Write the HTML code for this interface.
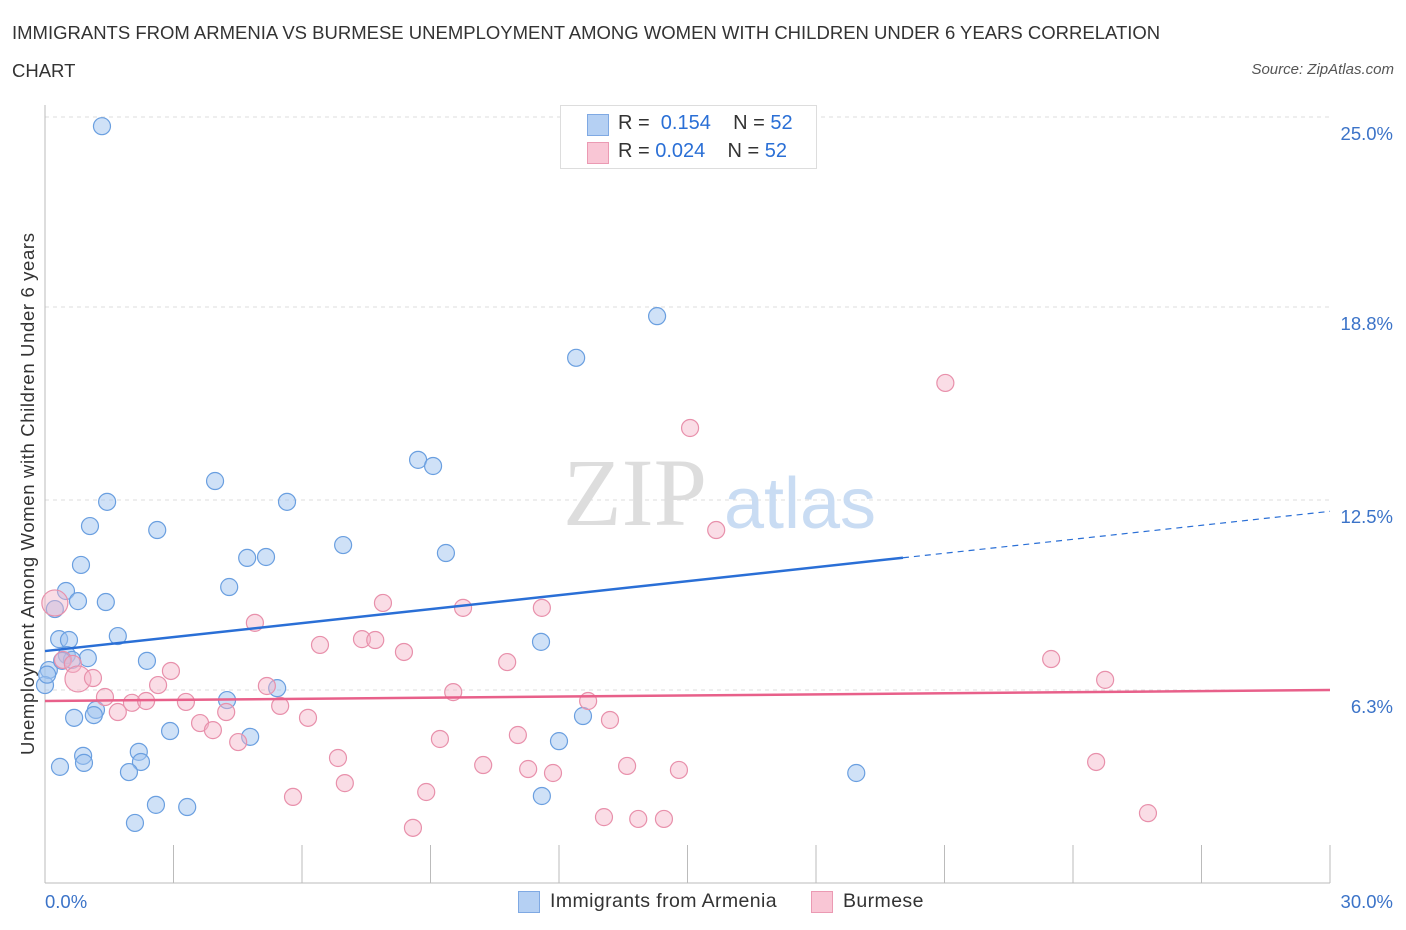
<!DOCTYPE html>
<html><head><meta charset="utf-8"><style>
body{margin:0;background:#fff;font-family:"Liberation Sans",sans-serif;}
#wrap{position:relative;width:1406px;height:930px;overflow:hidden}
.t{position:absolute;color:#333;font-size:18.5px;white-space:nowrap}
</style></head><body><div id="wrap">
<div class="t" style="left:12px;top:22px">IMMIGRANTS FROM ARMENIA VS BURMESE UNEMPLOYMENT AMONG WOMEN WITH CHILDREN UNDER 6 YEARS CORRELATION</div>
<div class="t" style="left:12px;top:60px">CHART</div>
<div class="t" style="right:12px;top:61px;font-size:15px;font-style:italic;color:#555">Source: ZipAtlas.com</div>
<svg id="svg" width="1406" height="930" style="position:absolute;left:0;top:0"></svg>
</div>
<script>
const xTicks=[0,30];
const yTicks=[6.3,12.5,18.8,25.0];
const yTickLabels=["6.3%","12.5%","18.8%","25.0%"];
const blueX=[1.33,14.29,12.4,8.71,9.06,3.97,1.45,5.65,1.05,2.62,6.96,9.36,4.72,5.16,0.84,4.30,0.49,0.23,0.77,1.42,1.70,0.33,0.56,11.58,0.51,1.00,2.38,0.63,0.09,0,5.42,4.25,1.19,1.14,0.68,12.56,2.92,4.79,12.0,0.89,2.19,0.91,2.24,0.35,1.96,18.94,2.59,3.32,11.60,2.10,0.40,0.05];
const blueY=[24.7,18.5,17.14,13.81,13.61,13.12,12.44,12.44,11.65,11.52,11.03,10.77,10.61,10.64,10.38,9.66,9.53,8.94,9.20,9.17,8.06,7.96,7.93,7.87,7.44,7.34,7.25,7.28,6.95,6.46,6.36,5.97,5.65,5.48,5.39,5.45,4.96,4.77,4.63,4.15,4.28,3.92,3.95,3.79,3.62,3.59,2.55,2.48,2.84,1.96,7.25,6.8];
const pinkX=[21.02,15.06,15.67,7.89,9.76,11.6,4.90,7.40,7.71,6.42,8.38,10.79,23.49,2.94,24.75,0.23,0.42,0.65,0.77,1.12,2.64,5.18,9.53,1.40,2.03,2.36,3.29,12.68,5.49,1.70,4.23,6.14,3.62,3.92,13.19,9.22,11.04,4.51,6.84,10.23,11.28,11.86,13.59,14.80,24.54,7.0,5.79,8.90,13.05,13.85,14.45,8.59,25.75];
const pinkY=[16.32,14.85,11.52,9.14,8.98,8.98,8.49,7.96,7.93,7.77,7.54,7.21,7.31,6.92,6.63,9.14,7.28,7.15,6.66,6.69,6.46,6.43,6.23,6.07,5.88,5.94,5.91,5.94,5.78,5.58,5.58,5.39,5.22,4.99,5.32,4.70,4.83,4.60,4.08,3.85,3.72,3.59,3.82,3.69,3.95,3.26,2.81,2.97,2.15,2.09,2.09,1.80,2.28];
const pinkR=[0,0,0,0,0,0,0,0,0,0,0,0,0,0,0,1,0,0,1,0,0,0,0,0,0,0,0,0,0,0,0,0,0,0,0,0,0,0,0,0,0,0,0,0,0,0,0,0,0,0,0,0,0];
const blueTrend=[7.57,0.152]; const pinkTrend=[5.94,0.012];
const X=v=>45+v/30*1285, Y=v=>883-v*30.64;
const s=document.getElementById('svg'),NS='http://www.w3.org/2000/svg';
function mk(t,a){const e=document.createElementNS(NS,t);for(const k in a)e.setAttribute(k,a[k]);s.appendChild(e);return e;}
yTicks.forEach((v,i)=>{
 const g=mk('line',{x1:45,x2:1330,y1:Y(v),y2:Y(v),stroke:'#ddd','stroke-dasharray':'4,4'});
 
 
 const t=mk('text',{x:1393,y:Y(v)+23,'text-anchor':'end',fill:'#3b73c8','font-size':18.5});
 t.textContent=yTickLabels[i];
 
 
});
for(let i=0;i<=10;i++){const l=mk('line',{x1:X(i*3),x2:X(i*3),y1:845,y2:883,stroke:'#bbb'});
 
 }
const ax=mk('line',{x1:45,x2:45,y1:105,y2:883,stroke:'#bbb'});


const bx=mk('line',{x1:45,x2:1330,y1:883,y2:883,stroke:'#bbb'});


const w1=mk('text',{x:635,y:525,'text-anchor':'middle',fill:'#ddd','font-size':96,'font-family':'Liberation Serif'});w1.textContent='ZIP';


const w2=mk('text',{x:800,y:528,'text-anchor':'middle',fill:'#c9dcf3','font-size':72});w2.textContent='atlas';


blueX.forEach((x,i)=>{const c=mk('circle',{cx:X(x),cy:Y(blueY[i]),r:8.5,fill:'rgba(160,196,240,0.5)',stroke:'#6a9fe0','stroke-width':1.2});
 
 });
pinkX.forEach((x,i)=>{const c=mk('circle',{cx:X(x),cy:Y(pinkY[i]),r:pinkR[i]?13:8.5,fill:'rgba(245,180,200,0.45)',stroke:'#e890ab','stroke-width':1.2});
 
 });
const bl=mk('line',{x1:X(0),y1:Y(blueTrend[0]),x2:X(20.03),y2:Y(blueTrend[0]+blueTrend[1]*20.03),stroke:'#2a6fd6','stroke-width':2.5});


const bd=mk('line',{x1:X(20.03),y1:Y(blueTrend[0]+blueTrend[1]*20.03),x2:X(30),y2:Y(blueTrend[0]+blueTrend[1]*30),stroke:'#2a6fd6','stroke-width':1.2,'stroke-dasharray':'6,5'});


const pl=mk('line',{x1:X(0),y1:Y(pinkTrend[0]),x2:X(30),y2:Y(pinkTrend[0]+pinkTrend[1]*30),stroke:'#e8608a','stroke-width':2.5});


xTicks.forEach((v,i)=>{const t=mk('text',{x:i?1393:45,y:908,'text-anchor':i?'end':'start',fill:'#3b73c8','font-size':18.5});t.textContent=v.toFixed(1)+'%';
 
 });
const yt=mk('text',{transform:'translate(34,494) rotate(-90)','text-anchor':'middle',fill:'#333','font-size':18.5,textLength:522,lengthAdjust:'spacing'});yt.textContent='Unemployment Among Women with Children Under 6 years';


</script>
<div style="position:absolute;left:560px;top:105px;width:255px;height:62px;border:1px solid #ddd;background:#fff;font-size:20px;color:#333">
<div style="position:absolute;left:26px;top:8px;width:20px;height:20px;background:#b5d0f3;border:1px solid #7fa9e3"></div>
<div style="position:absolute;left:57px;top:6px;white-space:nowrap">R = &nbsp;<span style="color:#2a6fd6">0.154</span>&nbsp;&nbsp;&nbsp; N = <span style="color:#2a6fd6">52</span></div>
<div style="position:absolute;left:26px;top:36px;width:20px;height:20px;background:#f9c6d5;border:1px solid #eb9ab3"></div>
<div style="position:absolute;left:57px;top:34px;white-space:nowrap">R = <span style="color:#2a6fd6">0.024</span>&nbsp;&nbsp;&nbsp; N = <span style="color:#2a6fd6">52</span></div>
</div>
<div style="position:absolute;left:518px;top:891px;width:20px;height:20px;background:#b5d0f3;border:1px solid #7fa9e3"></div>
<div class="t" style="left:550px;top:890px;font-size:19.5px;letter-spacing:0.4px">Immigrants from Armenia</div>
<div style="position:absolute;left:811px;top:891px;width:20px;height:20px;background:#f9c6d5;border:1px solid #eb9ab3"></div>
<div class="t" style="left:843px;top:890px;font-size:19.5px;letter-spacing:0.4px">Burmese</div>
</body></html>
